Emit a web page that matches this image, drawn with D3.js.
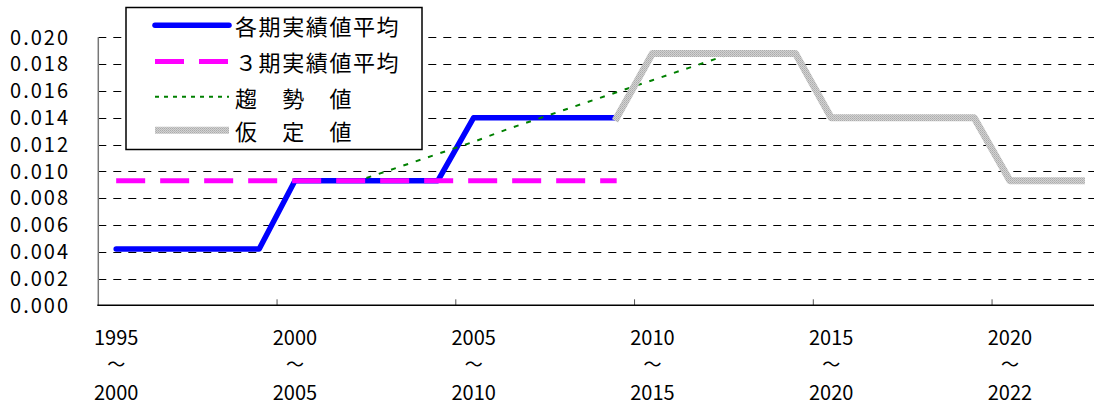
<!DOCTYPE html>
<html>
<head>
<meta charset="utf-8">
<script src="https://cdn.jsdelivr.net/npm/d3@7"></script>
<style>
  body { margin: 0; background: #fff; }
  text { font-family: "Noto Sans CJK JP", "Noto Sans", sans-serif; fill: #000; }
</style>
</head>
<body>
<svg id="chart" width="1094" height="407"></svg>
<script>
const years = [1995, 1996, 1997, 1998, 1999, 2000, 2001, 2002, 2003, 2004,
  2005, 2006, 2007, 2008, 2009, 2010, 2011, 2012, 2013, 2014,
  2015, 2016, 2017, 2018, 2019, 2020, 2021, 2022]

// 各期実績値平均
const periodAverage = [0.0042, 0.0042, 0.0042, 0.0042, 0.0042,
  0.0093, 0.0093, 0.0093, 0.0093, 0.0093,
  0.0140, 0.0140, 0.0140, 0.0140, 0.0140,
  null, null, null, null, null, null, null, null, null, null, null, null, null]

// ３期実績値平均
const threePeriodAverage = [0.0093, 0.0093, 0.0093, 0.0093, 0.0093,
  0.0093, 0.0093, 0.0093, 0.0093, 0.0093,
  0.0093, 0.0093, 0.0093, 0.0093, 0.0093,
  null, null, null, null, null, null, null, null, null, null, null, null, null]

// 趨勢値
const trendValue = [null, null, null, null, null, null, null,
  0.0095, 0.0104, 0.0113, 0.0122, 0.0132, 0.0141, 0.0150, 0.0159, 0.0168, 0.0177, 0.0186,
  null, null, null, null, null, null, null, null, null, null]

// 仮定値
const assumedValue = [null, null, null, null, null, null, null, null, null, null,
  null, null, null, null, 0.0140,
  0.0188, 0.0188, 0.0188, 0.0188, 0.0188,
  0.0140, 0.0140, 0.0140, 0.0140, 0.0140,
  0.0093, 0.0093, 0.0093]

const yTicks = [0, 0.002, 0.004, 0.006, 0.008, 0.010, 0.012, 0.014, 0.016, 0.018, 0.020]
const labelYears = [1995, 2000, 2005, 2010, 2015, 2020]
const labelFrom = ["1995", "2000", "2005", "2010", "2015", "2020"]
const labelTo = ["2000", "2005", "2010", "2015", "2020", "2022"]
const seriesNames = ["各期実績値平均", "３期実績値平均", "趨　勢　値", "仮　定　値"]

const svg = d3.select("#chart")
const plotLeft = 98.3, plotRight = 1099.3, plotTop = 37.3, plotBottom = 305.3

const x = d3.scaleBand().domain(years).range([plotLeft, plotRight])
const cx = (yr) => x(yr) + x.bandwidth() / 2
const y = d3.scaleLinear().domain([0, 0.020]).range([plotBottom, plotTop])

const defs = svg.append("defs")
const pat = defs.append("pattern")
  .attr("id", "grayHatch")
  .attr("patternUnits", "userSpaceOnUse")
  .attr("width", 2).attr("height", 2)
pat.append("rect").attr("width", 2).attr("height", 2).attr("fill", "#d2d2d2")
pat.append("rect").attr("width", 1).attr("height", 1).attr("fill", "#ababab")
pat.append("rect").attr("x", 1).attr("y", 1).attr("width", 1).attr("height", 1).attr("fill", "#b8b8b8")

// grid
svg.append("g")
  .selectAll("line")
  .data(yTicks.slice(1)).enter()
    .append("line")
      .attr("x1", plotLeft).attr("x2", plotRight)
      .attr("y1", d => Math.round(y(d)) + 0.5)
      .attr("y2", d => Math.round(y(d)) + 0.5)
      .attr("stroke", "#000")
      .attr("stroke-width", 1)
      .attr("stroke-dasharray", "8,7")

// y labels
svg.append("g")
  .selectAll("text")
  .data(yTicks).enter()
    .append("text")
      .attr("x", 70)
      .attr("y", d => y(d))
      .attr("dy", "0.36em")
      .attr("text-anchor", "end")
      .style("font-size", "20px")
      .style("letter-spacing", "2px")
      .text(d => d3.format(".3f")(d))

// axes
svg.append("line")
  .attr("x1", plotLeft).attr("x2", plotLeft)
  .attr("y1", plotTop).attr("y2", plotBottom)
  .attr("stroke", "#777").attr("stroke-width", 1.5)

svg.append("g")
  .selectAll("line")
  .data([2000, 2005, 2010, 2015, 2020]).enter()
    .append("line")
      .attr("x1", d => x(d)).attr("x2", d => x(d))
      .attr("y1", plotBottom - 6).attr("y2", plotBottom)
      .attr("stroke", "#555").attr("stroke-width", 1)

svg.append("line")
  .attr("x1", plotLeft - 1).attr("x2", plotRight)
  .attr("y1", plotBottom).attr("y2", plotBottom)
  .attr("stroke", "#000").attr("stroke-width", 1.5)

// x labels
const xl = svg.append("g")
  .selectAll("g")
  .data(labelYears).enter()
    .append("g")
      .attr("transform", d => `translate(${cx(d)},0)`)
xl.append("text").attr("y", 338).attr("dy", "0.36em").attr("text-anchor", "middle")
  .style("font-size", "20px").text((d, i) => labelFrom[i])
xl.append("text").attr("y", 365).attr("dy", "0.36em").attr("text-anchor", "middle")
  .style("font-size", "18px").text("～")
xl.append("text").attr("y", 393).attr("dy", "0.36em").attr("text-anchor", "middle")
  .style("font-size", "20px").text((d, i) => labelTo[i])

// series
const line = d3.line()
  .defined(d => d.v != null)
  .x(d => cx(d.yr))
  .y(d => y(d.v))

const toPoints = (vals) => vals.map((v, i) => ({ yr: years[i], v: v }))

const styles = [
  { stroke: "#0000ff", width: 5.5, dash: null, cap: "round" },
  { stroke: "#ff00ff", width: 5, dash: "29,15", cap: "butt" },
  { stroke: "#008000", width: 2, dash: "5,8", cap: "butt" },
  { stroke: "url(#grayHatch)", width: 7, dash: null, cap: "square" }
]
const seriesValues = [periodAverage, threePeriodAverage, trendValue, assumedValue]

seriesValues.forEach((vals, i) => {
  svg.append("path")
    .attr("d", line(toPoints(vals)))
    .attr("fill", "none")
    .attr("stroke", styles[i].stroke)
    .attr("stroke-width", styles[i].width)
    .attr("stroke-dasharray", styles[i].dash)
    .attr("stroke-linecap", styles[i].cap)
    .attr("stroke-linejoin", "round")
})

// legend
const legend = svg.append("g")
legend.append("rect")
  .attr("x", 126).attr("y", 7.5)
  .attr("width", 296).attr("height", 142)
  .attr("fill", "#fff")
  .attr("stroke", "#000").attr("stroke-width", 1.5)

const rowY = [25.3, 61.5, 96.7, 130.3]
seriesNames.forEach((name, i) => {
  legend.append("line")
    .attr("x1", 155).attr("x2", 229)
    .attr("y1", rowY[i]).attr("y2", rowY[i])
    .attr("stroke", styles[i].stroke)
    .attr("stroke-width", styles[i].width)
    .attr("stroke-dasharray", i == 1 ? "29,15" : (i == 2 ? "4,5" : null))
    .attr("stroke-linecap", i == 0 ? "round" : "butt")
  legend.append("text")
    .attr("x", 235)
    .attr("y", rowY[i] + 2)
    .attr("dy", "0.36em")
    .style("font-size", "22px")
    .style("letter-spacing", "1.6px")
    .text(name)
})
</script>
</body>
</html>
